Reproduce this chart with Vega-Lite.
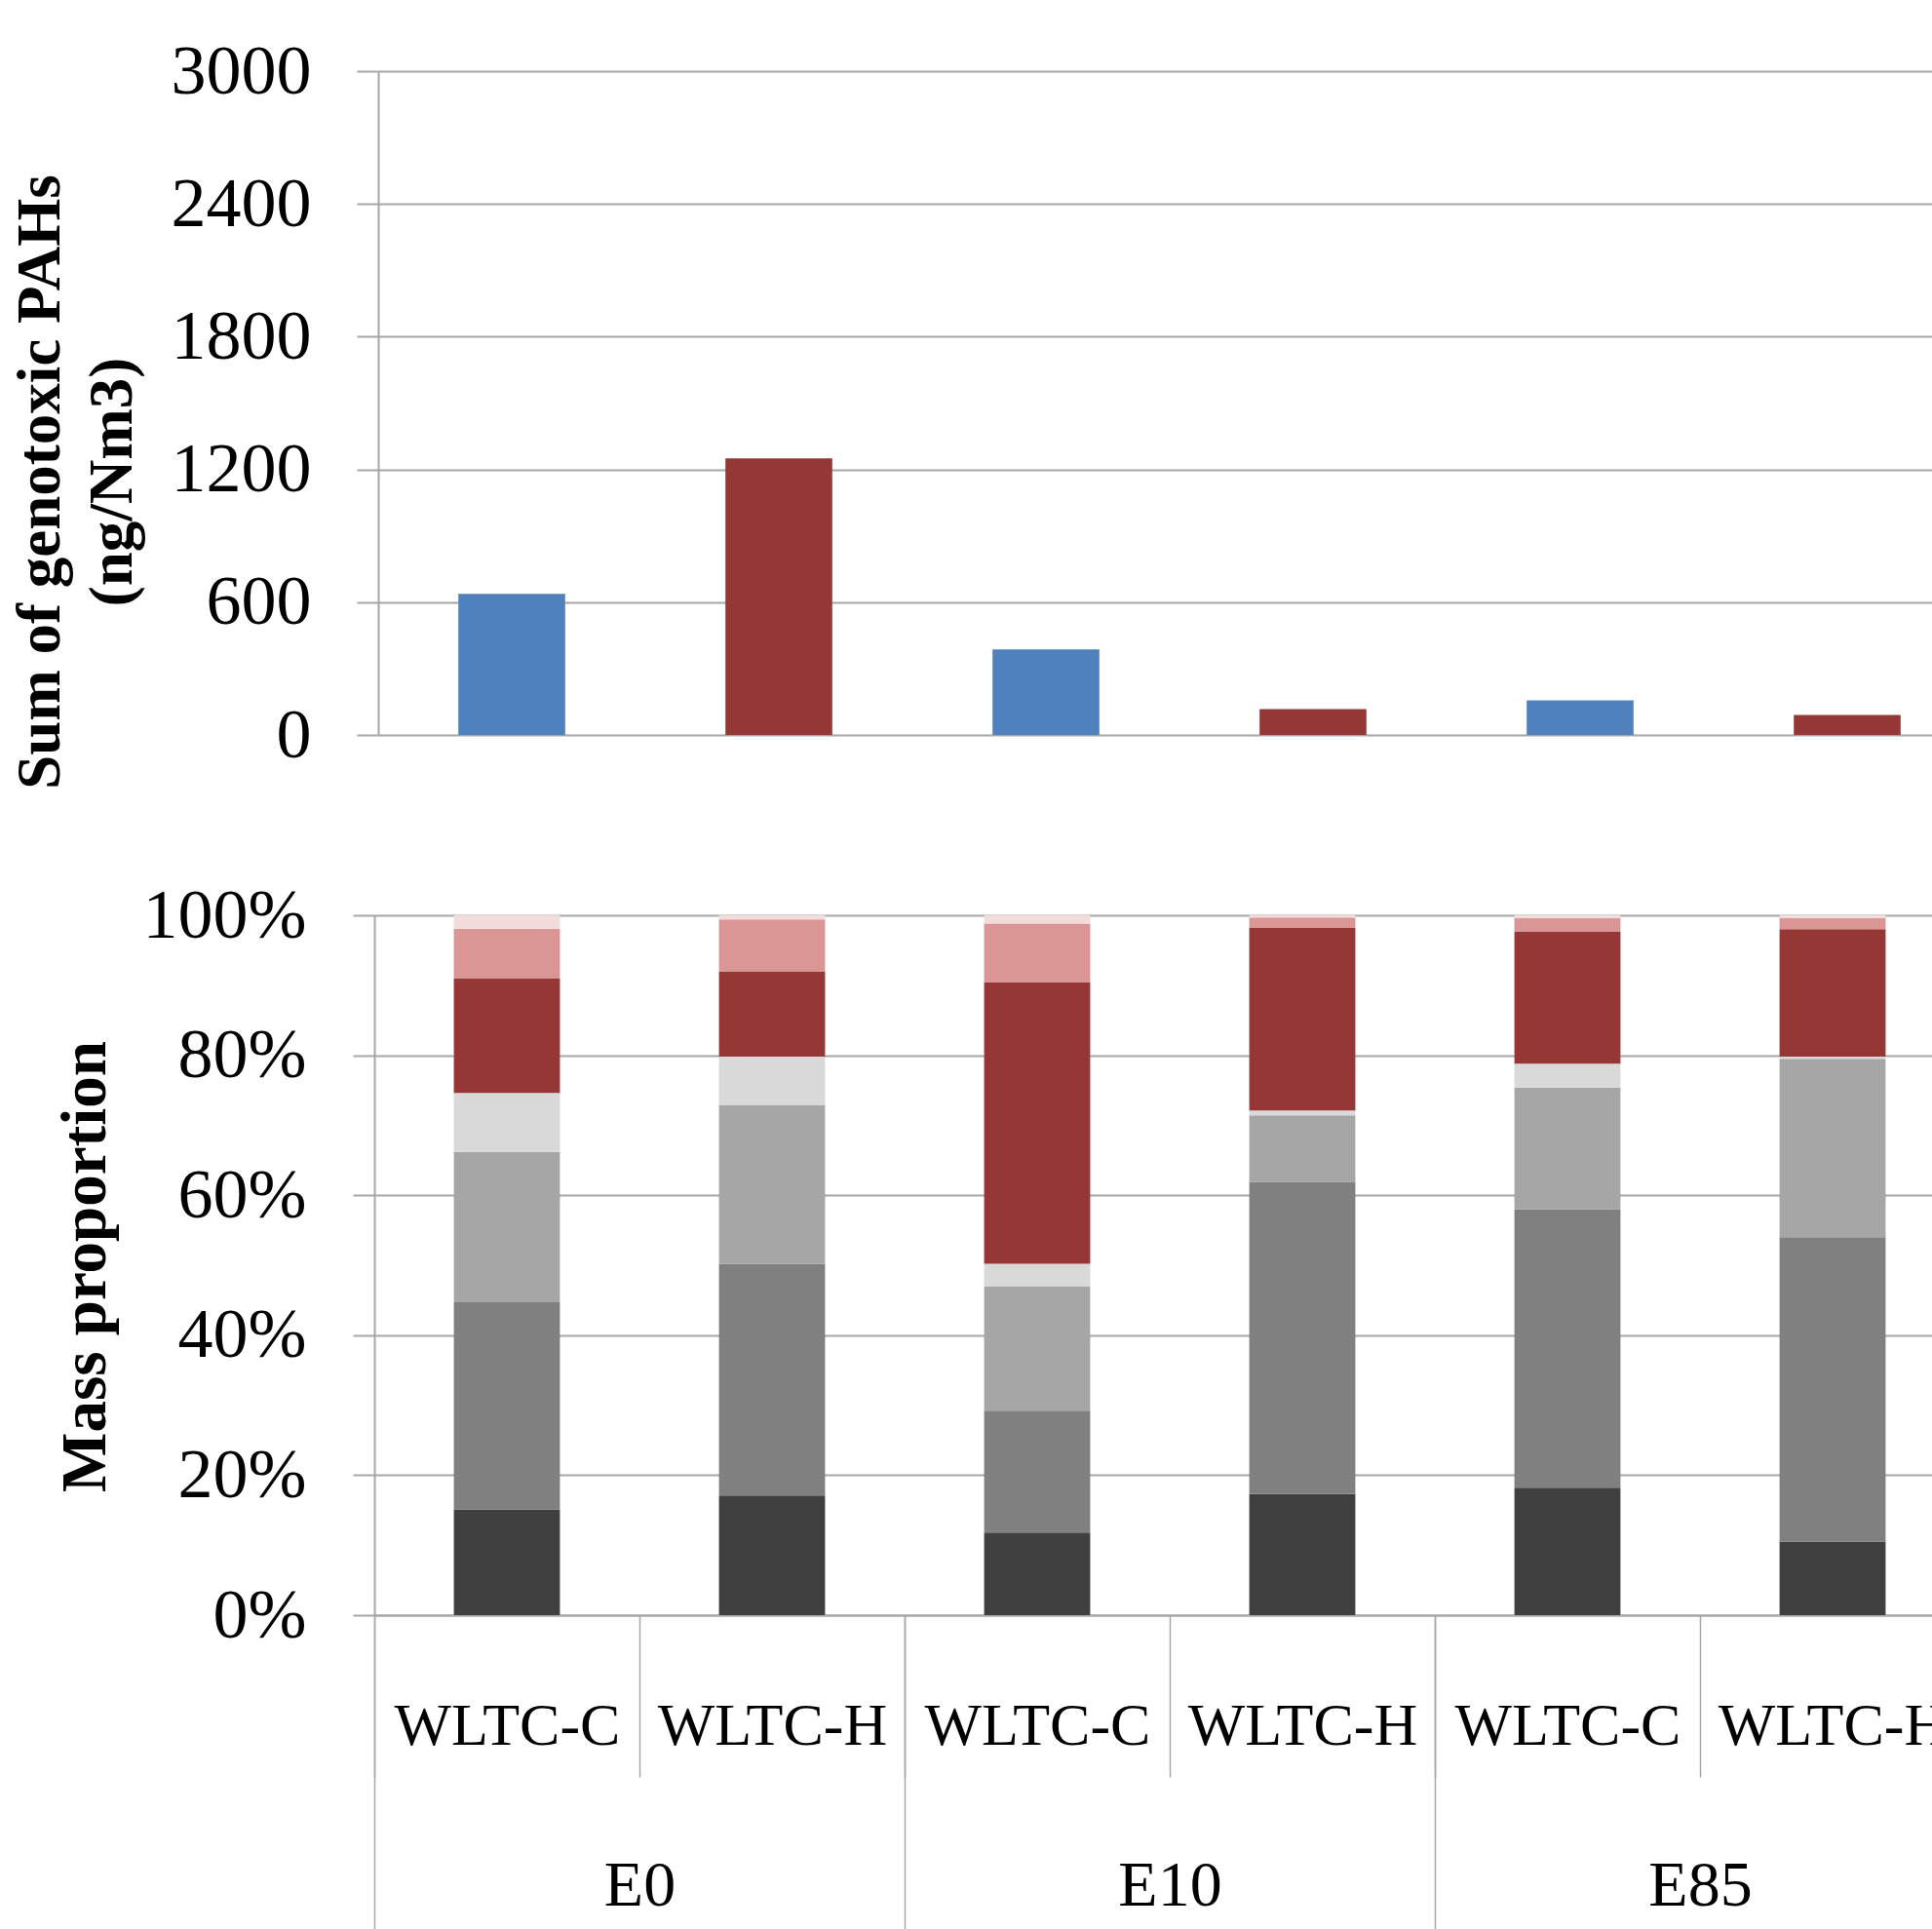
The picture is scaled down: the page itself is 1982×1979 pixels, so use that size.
{
  "$schema": "https://vega.github.io/schema/vega-lite/v6.json",
  "padding": {"left": 10, "top": 37, "right": 0, "bottom": 0},
  "background": "white",
  "bounds": "flush",
  "spacing": 185,
  "resolve": {"scale": {"color": "independent", "x": "independent", "y": "independent"}},
  "config": {
    "view": {"stroke": null},
    "font": "Liberation Serif",
    "axis": {"labelColor": "black", "titleColor": "black", "labelFont": "Liberation Serif", "titleFont": "Liberation Serif", "labelLimit": 0}
  },
  "vconcat": [
    {
      "width": 1648,
      "height": 681,
      "data": {"values": [
        {"fuel": "E0", "cycle": "WLTC-C", "key": "E0|WLTC-C", "total": 638},
        {"fuel": "E0", "cycle": "WLTC-H", "key": "E0|WLTC-H", "total": 1250},
        {"fuel": "E10", "cycle": "WLTC-C", "key": "E10|WLTC-C", "total": 387},
        {"fuel": "E10", "cycle": "WLTC-H", "key": "E10|WLTC-H", "total": 117},
        {"fuel": "E85", "cycle": "WLTC-C", "key": "E85|WLTC-C", "total": 156},
        {"fuel": "E85", "cycle": "WLTC-H", "key": "E85|WLTC-H", "total": 90}
      ]},
      "mark": {"type": "bar", "width": {"band": 0.4}},
      "encoding": {
        "x": {"field": "key", "type": "nominal", "sort": null,
              "scale": {"paddingInner": 0, "paddingOuter": 0, "range": [4, 1648]},
              "axis": null},
        "y": {"field": "total", "type": "quantitative",
              "scale": {"domain": [0, 3000], "nice": false},
              "axis": {"values": [0, 600, 1200, 1800, 2400, 3000], "format": "d", "offset": -4,
                       "grid": true, "gridColor": "#A6A6A6", "gridWidth": 2,
                       "domainColor": "#A6A6A6", "domainWidth": 2,
                       "tickColor": "#A6A6A6", "tickWidth": 2, "tickSize": 22,
                       "labelFontSize": 72, "labelPadding": 47,
                       "title": ["Sum of genotoxic PAHs", "(ng/Nm3)"],
                       "titleX": -328, "titleY": 421, "titleAngle": 270,
                       "titleBaseline": "alphabetic", "titleAlign": "center",
                       "titleFontSize": 63, "titleFontWeight": "bold", "titleLineHeight": 74}},
        "color": {"field": "cycle", "type": "nominal",
                  "scale": {"domain": ["WLTC-C", "WLTC-H"], "range": ["#4F81BD", "#953735"]},
                  "legend": null}
      }
    },
    {
      "width": 1632,
      "height": 718,
      "layer": [
        {
          "data": {"values": [
            {"key": "E0|WLTC-C", "comp": "G1", "pct": 15.1},
            {"key": "E0|WLTC-C", "comp": "G2", "pct": 29.6},
            {"key": "E0|WLTC-C", "comp": "G3", "pct": 21.5},
            {"key": "E0|WLTC-C", "comp": "G4", "pct": 8.4},
            {"key": "E0|WLTC-C", "comp": "G5", "pct": 16.4},
            {"key": "E0|WLTC-C", "comp": "G6", "pct": 7.1},
            {"key": "E0|WLTC-C", "comp": "G7", "pct": 1.9},
            {"key": "E0|WLTC-H", "comp": "G1", "pct": 17.1},
            {"key": "E0|WLTC-H", "comp": "G2", "pct": 33.1},
            {"key": "E0|WLTC-H", "comp": "G3", "pct": 22.7},
            {"key": "E0|WLTC-H", "comp": "G4", "pct": 6.9},
            {"key": "E0|WLTC-H", "comp": "G5", "pct": 12.2},
            {"key": "E0|WLTC-H", "comp": "G6", "pct": 7.4},
            {"key": "E0|WLTC-H", "comp": "G7", "pct": 0.6},
            {"key": "E10|WLTC-C", "comp": "G1", "pct": 11.8},
            {"key": "E10|WLTC-C", "comp": "G2", "pct": 17.4},
            {"key": "E10|WLTC-C", "comp": "G3", "pct": 17.8},
            {"key": "E10|WLTC-C", "comp": "G4", "pct": 3.2},
            {"key": "E10|WLTC-C", "comp": "G5", "pct": 40.2},
            {"key": "E10|WLTC-C", "comp": "G6", "pct": 8.4},
            {"key": "E10|WLTC-C", "comp": "G7", "pct": 1.2},
            {"key": "E10|WLTC-H", "comp": "G1", "pct": 17.3},
            {"key": "E10|WLTC-H", "comp": "G2", "pct": 44.6},
            {"key": "E10|WLTC-H", "comp": "G3", "pct": 9.5},
            {"key": "E10|WLTC-H", "comp": "G4", "pct": 0.7},
            {"key": "E10|WLTC-H", "comp": "G5", "pct": 26.1},
            {"key": "E10|WLTC-H", "comp": "G6", "pct": 1.5},
            {"key": "E10|WLTC-H", "comp": "G7", "pct": 0.3},
            {"key": "E85|WLTC-C", "comp": "G1", "pct": 18.2},
            {"key": "E85|WLTC-C", "comp": "G2", "pct": 39.8},
            {"key": "E85|WLTC-C", "comp": "G3", "pct": 17.4},
            {"key": "E85|WLTC-C", "comp": "G4", "pct": 3.4},
            {"key": "E85|WLTC-C", "comp": "G5", "pct": 18.9},
            {"key": "E85|WLTC-C", "comp": "G6", "pct": 1.9},
            {"key": "E85|WLTC-C", "comp": "G7", "pct": 0.4},
            {"key": "E85|WLTC-H", "comp": "G1", "pct": 10.5},
            {"key": "E85|WLTC-H", "comp": "G2", "pct": 43.5},
            {"key": "E85|WLTC-H", "comp": "G3", "pct": 25.5},
            {"key": "E85|WLTC-H", "comp": "G4", "pct": 0.3},
            {"key": "E85|WLTC-H", "comp": "G5", "pct": 18.2},
            {"key": "E85|WLTC-H", "comp": "G6", "pct": 1.6},
            {"key": "E85|WLTC-H", "comp": "G7", "pct": 0.4}
          ]},
          "mark": {"type": "bar", "width": {"band": 0.4}},
          "encoding": {
            "x": {"field": "key", "type": "nominal", "sort": null,
                  "scale": {"paddingInner": 0, "paddingOuter": 0},
                  "axis": {"orient": "bottom", "title": null,
                           "labelExpr": "split(datum.label, '|')[1]",
                           "tickBand": "extent", "tickSize": 166, "tickColor": "#A6A6A6", "tickWidth": 1.5,
                           "labelPadding": -53, "labelBaseline": "middle", "labelAngle": 0,
                           "labelFontSize": 62, "labelOverlap": false, "labelLimit": 0, "grid": false,
                           "domainColor": "#A6A6A6", "domainWidth": 2}},
            "y": {"field": "pct", "type": "quantitative", "stack": "normalize",
                  "scale": {"domain": [0, 1], "nice": false},
                  "axis": {"values": [0, 0.2, 0.4, 0.6, 0.8, 1], "format": ".0%",
                           "grid": true, "gridColor": "#A6A6A6", "gridWidth": 2,
                           "domainColor": "#A6A6A6", "domainWidth": 2,
                           "tickColor": "#A6A6A6", "tickWidth": 2, "tickSize": 22,
                           "labelFontSize": 72, "labelPadding": 48,
                           "title": "Mass proportion",
                           "titleX": -277, "titleY": 360, "titleAngle": 270,
                           "titleBaseline": "alphabetic", "titleAlign": "center",
                           "titleFontSize": 65, "titleFontWeight": "bold"}},
            "color": {"field": "comp", "type": "nominal",
                      "scale": {"domain": ["G1", "G2", "G3", "G4", "G5", "G6", "G7"],
                                "range": ["#404040", "#808080", "#A6A6A6", "#D9D9D9", "#953735", "#D99694", "#F2DCDB"]},
                      "legend": null},
            "order": {"field": "comp", "type": "ordinal"}
          }
        },
        {
          "data": {"values": [{"fuel": "E0"}, {"fuel": "E10"}, {"fuel": "E85"}]},
          "mark": {"type": "rule", "opacity": 0},
          "encoding": {
            "x": {"field": "fuel", "type": "nominal", "sort": null,
                  "scale": {"paddingInner": 0, "paddingOuter": 0},
                  "axis": {"orient": "bottom", "title": null,
                           "tickBand": "extent", "tickSize": 322, "tickColor": "#A6A6A6", "tickWidth": 1.5,
                           "labelPadding": -45, "labelBaseline": "middle", "labelAngle": 0,
                           "labelFontSize": 66, "labelOverlap": false, "grid": false, "domain": false}}
          }
        }
      ],
      "resolve": {"scale": {"x": "independent"}, "axis": {"x": "independent"}}
    }
  ]
}
